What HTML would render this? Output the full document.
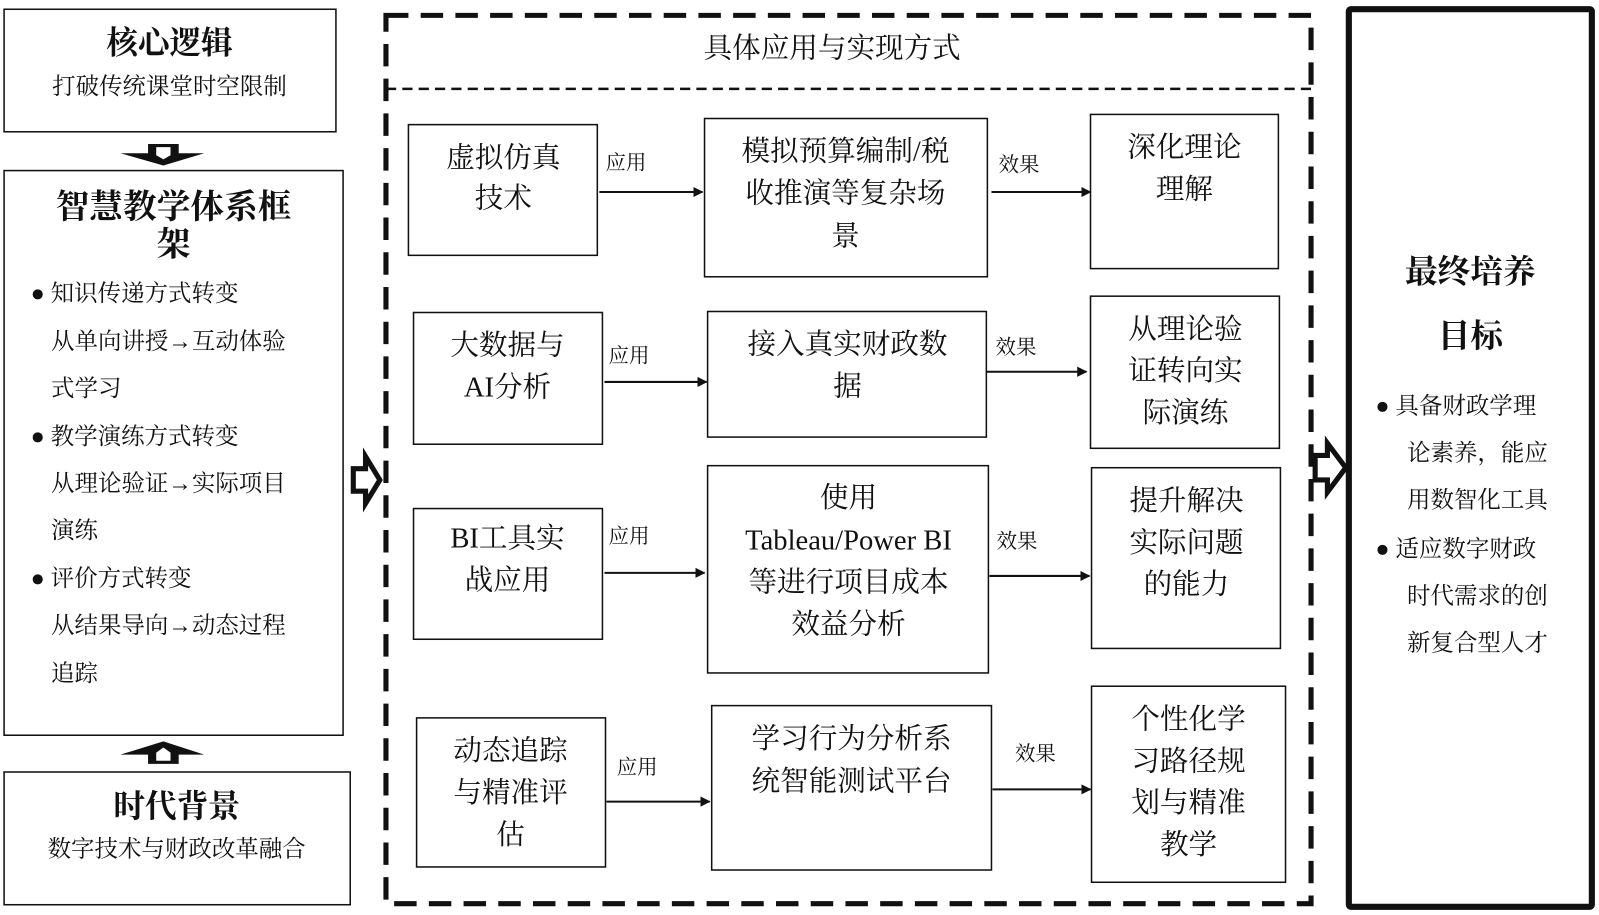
<!DOCTYPE html>
<html><head><meta charset="utf-8"><style>
html,body{margin:0;padding:0;background:#fff;}
svg{display:block;}
text{font-family:"Liberation Serif","Noto Serif CJK SC",serif;fill:#111;dominant-baseline:central;}
.t{font-size:28px;text-anchor:middle;}
.b{font-weight:bold;text-anchor:middle;}
.s{font-size:23px;}
.l{font-size:20px;}
</style></head><body>
<svg width="1599" height="915" viewBox="0 0 1566 896" xmlns="http://www.w3.org/2000/svg">
<defs><marker id="ah" markerWidth="10" markerHeight="10" refX="9" refY="5" orient="auto" markerUnits="userSpaceOnUse"><path d="M0,0 L10,5 L0,10 z" fill="#111"/></marker>
<marker id="a2" markerWidth="20" markerHeight="16" refX="19" refY="8" orient="auto" markerUnits="userSpaceOnUse"><path d="M0,0 L20,8 L0,16 z" fill="#111"/></marker></defs>
<g fill="none" stroke="#111" stroke-width="1.5">
<rect x="4" y="9" width="325" height="120"/>
<rect x="4" y="167" width="332" height="553"/>
<rect x="4" y="756" width="339" height="130"/>
</g>
<text class="b" x="166" y="42" font-size="31">核心逻辑</text>
<text class="s" x="166" y="85" text-anchor="middle">打破传统课堂时空限制</text>
<polygon points="145,141 175,141 175,150 200,150 160,162 118,150 145,150" fill="#111"/>
<polygon points="153,144 167,144 167,152 160,156 153,152" fill="#fff"/>
<text class="b" x="170" y="203" font-size="33">智慧教学体系框</text>
<text class="b" x="170" y="240" font-size="33">架</text>
<g class="s">
<text x="30" y="288" class="s">●  知识传递方式转变</text>
<text x="50" y="335" class="s">从单向讲授→互动体验</text>
<text x="50" y="381" class="s">式学习</text>
<text x="30" y="428" class="s">●  教学演练方式转变</text>
<text x="50" y="474" class="s">从理论验证→实际项目</text>
<text x="50" y="520" class="s">演练</text>
<text x="30" y="567" class="s">●  评价方式转变</text>
<text x="50" y="613" class="s">从结果导向→动态过程</text>
<text x="50" y="660" class="s">追踪</text>
</g>
<polygon points="145,748 175,748 175,739 200,739 160,726 118,739 145,739" fill="#111"/>
<polygon points="153,745 167,745 167,737 160,732 153,737" fill="#fff"/>
<text class="b" x="173" y="790" font-size="31">时代背景</text>
<text class="s" x="173" y="832" text-anchor="middle">数字技术与财政改革融合</text>
<polygon points="346,459 358,459 358,447 372,470 358,493 358,481 346,481" fill="#fff" stroke="#111" stroke-width="5" stroke-linejoin="miter"/>
<rect x="378" y="15" width="906" height="870" fill="none" stroke="#111" stroke-width="5" stroke-dasharray="22,12"/>
<line x1="378" y1="87" x2="1284" y2="87" stroke="#111" stroke-width="2.5" stroke-dasharray="10,6"/>
<text class="t" x="815" y="48" font-size="30">具体应用与实现方式</text>
<g fill="none" stroke="#111" stroke-width="1.5">
<rect x="400" y="122" width="185" height="128"/><rect x="690" y="116" width="277" height="155"/><rect x="1068" y="112" width="184" height="151"/>
<rect x="405" y="306" width="185" height="129"/><rect x="693" y="305" width="273" height="123"/><rect x="1068" y="290" width="185" height="149"/>
<rect x="405" y="498" width="185" height="128"/><rect x="693" y="456" width="275" height="203"/><rect x="1069" y="458" width="185" height="177"/>
<rect x="408" y="703" width="185" height="146"/><rect x="697" y="691" width="274" height="161"/><rect x="1069" y="672" width="190" height="192"/>
</g>
<g stroke="#111" stroke-width="2">
<line x1="587" y1="188" x2="688" y2="188" marker-end="url(#ah)"/><line x1="971" y1="188" x2="1068" y2="188" marker-end="url(#ah)"/>
<line x1="592" y1="374" x2="692" y2="374" marker-end="url(#ah)"/><line x1="966" y1="364" x2="1064" y2="364" marker-end="url(#ah)"/>
<line x1="592" y1="561" x2="690" y2="561" marker-end="url(#ah)"/><line x1="969" y1="564" x2="1067" y2="564" marker-end="url(#ah)"/>
<line x1="594" y1="785" x2="695" y2="785" marker-end="url(#ah)"/><line x1="972" y1="773" x2="1068" y2="773" marker-end="url(#ah)"/>
</g>
<g class="l">
<text class="l" x="593" y="160">应用</text><text class="l" x="978" y="162">效果</text>
<text class="l" x="596" y="349">应用</text><text class="l" x="975" y="341">效果</text>
<text class="l" x="596" y="526">应用</text><text class="l" x="976" y="531">效果</text>
<text class="l" x="604" y="752">应用</text><text class="l" x="994" y="739">效果</text>
</g>
<text class="t" x="493" y="155">虚拟仿真</text><text class="t" x="493" y="195">技术</text>
<text class="t" x="828" y="149">模拟预算编制/税</text><text class="t" x="828" y="190">收推演等复杂场</text><text class="t" x="828" y="232">景</text>
<text class="t" x="1160" y="145">深化理论</text><text class="t" x="1160" y="186">理解</text>
<text class="t" x="497" y="339">大数据与</text><text class="t" x="497" y="380">AI分析</text>
<text class="t" x="830" y="338">接入真实财政数</text><text class="t" x="830" y="379">据</text>
<text class="t" x="1161" y="323">从理论验</text><text class="t" x="1161" y="364">证转向实</text><text class="t" x="1161" y="405">际演练</text>
<text class="t" x="497" y="528">BI工具实</text><text class="t" x="497" y="569">战应用</text>
<text class="t" x="831" y="488">使用</text><text class="t" x="831" y="530">Tableau/Power BI</text><text class="t" x="831" y="571">等进行项目成本</text><text class="t" x="831" y="612">效益分析</text>
<text class="t" x="1162" y="491">提升解决</text><text class="t" x="1162" y="532">实际问题</text><text class="t" x="1162" y="573">的能力</text>
<text class="t" x="500" y="736">动态追踪</text><text class="t" x="500" y="777">与精准评</text><text class="t" x="500" y="818">估</text>
<text class="t" x="834" y="724">学习行为分析系</text><text class="t" x="834" y="766">统智能测试平台</text>
<text class="t" x="1164" y="705">个性化学</text><text class="t" x="1164" y="746">习路径规</text><text class="t" x="1164" y="787">划与精准</text><text class="t" x="1164" y="828">教学</text>
<polygon points="1288,446 1300,446 1300,434 1318,458 1300,482 1300,470 1288,470" fill="#fff" stroke="#111" stroke-width="5"/>
<rect x="1321" y="9" width="238" height="879" fill="none" stroke="#111" stroke-width="6" rx="2"/>
<text class="b" x="1440" y="267" font-size="32">最终培养</text>
<text class="b" x="1440" y="330" font-size="32">目标</text>
<text class="s" x="1347" y="398">●  具备财政学理</text>
<text class="s" x="1378" y="444">论素养，能应</text>
<text class="s" x="1378" y="490">用数智化工具</text>
<text class="s" x="1347" y="538">●  适应数字财政</text>
<text class="s" x="1378" y="584">时代需求的创</text>
<text class="s" x="1378" y="630">新复合型人才</text>
</svg>
</body></html>
